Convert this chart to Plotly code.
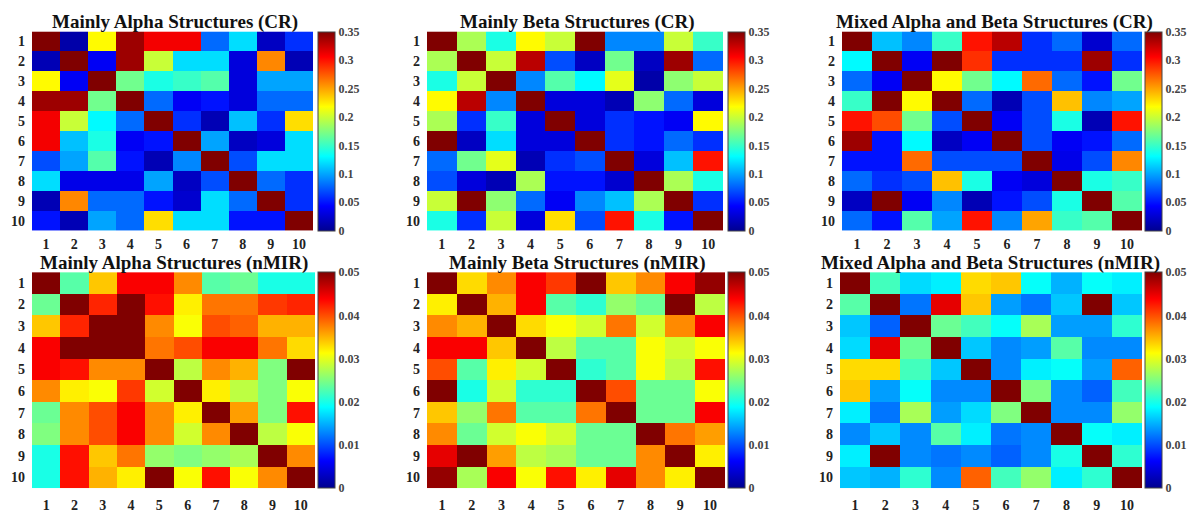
import plotly.graph_objects as go

W, H = 1195, 513

labels = [str(i) for i in range(1, 11)]

titles = [
    "Mainly Alpha Structures (CR)",
    "Mainly Beta Structures (CR)",
    "Mixed Alpha and Beta Structures (CR)",
    "Mainly Alpha Structures (nMIR)",
    "Mainly Beta Structures (nMIR)",
    "Mixed Alpha and Beta Structures (nMIR)",
]

cr_ticks = [0, 0.05, 0.1, 0.15, 0.2, 0.25, 0.3, 0.35]
cr_ticktext = ["0", "0.05", "0.1", "0.15", "0.2", "0.25", "0.3", "0.35"]
nmir_ticks = [0, 0.01, 0.02, 0.03, 0.04, 0.05]
nmir_ticktext = ["0", "0.01", "0.02", "0.03", "0.04", "0.05"]

cr_alpha = [
    [0.35, 0.01, 0.22, 0.34, 0.31, 0.31, 0.08, 0.12, 0.02, 0.06],
    [0.015, 0.35, 0.04, 0.34, 0.20, 0.12, 0.12, 0.03, 0.26, 0.015],
    [0.22, 0.04, 0.35, 0.17, 0.14, 0.15, 0.16, 0.03, 0.10, 0.10],
    [0.34, 0.34, 0.17, 0.35, 0.08, 0.04, 0.05, 0.03, 0.08, 0.08],
    [0.31, 0.20, 0.13, 0.08, 0.35, 0.06, 0.015, 0.11, 0.06, 0.23],
    [0.31, 0.11, 0.14, 0.04, 0.05, 0.35, 0.10, 0.02, 0.03, 0.12],
    [0.07, 0.10, 0.16, 0.05, 0.015, 0.09, 0.35, 0.07, 0.12, 0.12],
    [0.12, 0.035, 0.035, 0.035, 0.10, 0.02, 0.07, 0.35, 0.08, 0.06],
    [0.015, 0.26, 0.08, 0.08, 0.05, 0.025, 0.12, 0.08, 0.35, 0.06],
    [0.05, 0.015, 0.10, 0.08, 0.23, 0.12, 0.12, 0.05, 0.05, 0.35],
]

cr_beta = [
    [0.35, 0.19, 0.14, 0.22, 0.20, 0.35, 0.09, 0.09, 0.20, 0.15],
    [0.19, 0.35, 0.20, 0.33, 0.07, 0.02, 0.17, 0.02, 0.34, 0.08],
    [0.14, 0.20, 0.35, 0.09, 0.16, 0.13, 0.21, 0.01, 0.18, 0.20],
    [0.22, 0.33, 0.09, 0.35, 0.03, 0.03, 0.015, 0.18, 0.08, 0.03],
    [0.19, 0.06, 0.15, 0.03, 0.35, 0.03, 0.06, 0.05, 0.04, 0.22],
    [0.35, 0.02, 0.12, 0.03, 0.03, 0.35, 0.06, 0.05, 0.08, 0.06],
    [0.08, 0.17, 0.21, 0.015, 0.06, 0.07, 0.35, 0.03, 0.11, 0.30],
    [0.07, 0.03, 0.015, 0.19, 0.05, 0.05, 0.025, 0.35, 0.19, 0.14],
    [0.20, 0.35, 0.18, 0.08, 0.04, 0.09, 0.11, 0.19, 0.35, 0.06],
    [0.14, 0.06, 0.20, 0.03, 0.23, 0.07, 0.30, 0.14, 0.05, 0.35],
]

cr_mixed = [
    [0.35, 0.11, 0.09, 0.15, 0.30, 0.33, 0.06, 0.08, 0.025, 0.08],
    [0.13, 0.35, 0.04, 0.35, 0.29, 0.06, 0.06, 0.06, 0.34, 0.06],
    [0.08, 0.04, 0.35, 0.22, 0.17, 0.13, 0.27, 0.08, 0.05, 0.17],
    [0.15, 0.35, 0.22, 0.35, 0.08, 0.015, 0.07, 0.24, 0.09, 0.10],
    [0.30, 0.28, 0.17, 0.07, 0.35, 0.04, 0.07, 0.14, 0.015, 0.30],
    [0.34, 0.05, 0.13, 0.02, 0.04, 0.35, 0.07, 0.04, 0.05, 0.08],
    [0.05, 0.05, 0.27, 0.07, 0.07, 0.07, 0.35, 0.035, 0.07, 0.26],
    [0.08, 0.06, 0.07, 0.24, 0.14, 0.04, 0.03, 0.35, 0.14, 0.15],
    [0.02, 0.35, 0.04, 0.09, 0.015, 0.05, 0.07, 0.14, 0.35, 0.16],
    [0.08, 0.05, 0.16, 0.10, 0.30, 0.09, 0.25, 0.15, 0.16, 0.35],
]

nmir_alpha = [
    [0.050, 0.023, 0.034, 0.044, 0.044, 0.037, 0.023, 0.024, 0.020, 0.020],
    [0.024, 0.050, 0.042, 0.050, 0.043, 0.032, 0.038, 0.038, 0.041, 0.042],
    [0.034, 0.042, 0.050, 0.050, 0.037, 0.031, 0.040, 0.039, 0.035, 0.035],
    [0.044, 0.050, 0.050, 0.050, 0.038, 0.040, 0.044, 0.044, 0.038, 0.033],
    [0.044, 0.043, 0.037, 0.037, 0.050, 0.028, 0.037, 0.035, 0.025, 0.050],
    [0.037, 0.032, 0.031, 0.041, 0.029, 0.050, 0.032, 0.028, 0.025, 0.031],
    [0.024, 0.037, 0.040, 0.044, 0.037, 0.032, 0.050, 0.036, 0.025, 0.043],
    [0.025, 0.037, 0.040, 0.044, 0.037, 0.029, 0.037, 0.050, 0.028, 0.031],
    [0.020, 0.043, 0.034, 0.038, 0.026, 0.025, 0.026, 0.027, 0.050, 0.037],
    [0.020, 0.043, 0.035, 0.032, 0.050, 0.031, 0.043, 0.031, 0.037, 0.050],
]

nmir_beta = [
    [0.050, 0.033, 0.037, 0.044, 0.041, 0.050, 0.034, 0.037, 0.044, 0.049],
    [0.032, 0.050, 0.035, 0.044, 0.023, 0.021, 0.026, 0.024, 0.050, 0.028],
    [0.037, 0.035, 0.050, 0.033, 0.031, 0.029, 0.038, 0.029, 0.037, 0.044],
    [0.044, 0.044, 0.034, 0.050, 0.028, 0.023, 0.023, 0.031, 0.029, 0.031],
    [0.040, 0.023, 0.032, 0.029, 0.050, 0.021, 0.023, 0.031, 0.028, 0.043],
    [0.050, 0.020, 0.029, 0.021, 0.021, 0.050, 0.040, 0.024, 0.024, 0.031],
    [0.034, 0.026, 0.038, 0.023, 0.023, 0.038, 0.050, 0.024, 0.024, 0.044],
    [0.037, 0.024, 0.029, 0.031, 0.029, 0.024, 0.024, 0.050, 0.038, 0.036],
    [0.045, 0.050, 0.036, 0.028, 0.027, 0.024, 0.024, 0.037, 0.050, 0.032],
    [0.049, 0.027, 0.044, 0.031, 0.043, 0.032, 0.045, 0.037, 0.032, 0.050],
]

nmir_mixed = [
    [0.050, 0.022, 0.017, 0.018, 0.033, 0.034, 0.019, 0.015, 0.019, 0.018],
    [0.023, 0.050, 0.012, 0.045, 0.034, 0.014, 0.012, 0.016, 0.050, 0.016],
    [0.016, 0.011, 0.050, 0.024, 0.022, 0.019, 0.027, 0.014, 0.014, 0.021],
    [0.017, 0.045, 0.024, 0.050, 0.016, 0.013, 0.014, 0.023, 0.013, 0.013],
    [0.033, 0.033, 0.022, 0.016, 0.050, 0.013, 0.018, 0.019, 0.014, 0.039],
    [0.034, 0.014, 0.019, 0.013, 0.013, 0.050, 0.025, 0.013, 0.011, 0.022],
    [0.018, 0.012, 0.027, 0.014, 0.017, 0.025, 0.050, 0.013, 0.013, 0.026],
    [0.013, 0.016, 0.013, 0.023, 0.018, 0.012, 0.013, 0.050, 0.019, 0.018],
    [0.018, 0.050, 0.013, 0.012, 0.013, 0.011, 0.013, 0.020, 0.050, 0.021],
    [0.016, 0.015, 0.021, 0.013, 0.039, 0.022, 0.026, 0.018, 0.021, 0.050],
]

# MATLAB-style jet colormap
jet = [
    [0.0, "rgb(0,0,143)"],
    [0.125, "rgb(0,0,255)"],
    [0.375, "rgb(0,255,255)"],
    [0.625, "rgb(255,255,0)"],
    [0.875, "rgb(255,0,0)"],
    [1.0, "rgb(128,0,0)"],
]

FONT = "Liberation Serif"

# layout in pixels: (x0, x1, y0_top, y1_bottom), colorbar left x, title centre (x, y), x-label standoff
panels = [
    (cr_alpha, 0.35, cr_ticks, cr_ticktext, (32, 313, 32, 235), 318, (175, 22), 3),
    (cr_beta, 0.35, cr_ticks, cr_ticktext, (427, 723, 32, 235), 728, (577, 22), 3),
    (cr_mixed, 0.35, cr_ticks, cr_ticktext, (842, 1142, 32, 235), 1145, (994, 22), 3),
    (nmir_alpha, 0.05, nmir_ticks, nmir_ticktext, (32, 315, 277, 497), 318, (174, 268), 7),
    (nmir_beta, 0.05, nmir_ticks, nmir_ticktext, (427, 725, 277, 497), 728, (577, 268), 7),
    (nmir_mixed, 0.05, nmir_ticks, nmir_ticktext, (840, 1142, 277, 497), 1145, (990, 268), 7),
]

fig = go.Figure()
layout = {}
annotations = []

for i, (z, zmax, tv, tt, (px0, px1, py0, py1), cbx, (tx, ty), xso) in enumerate(panels):
    n = "" if i == 0 else str(i + 1)
    xd = [px0 / W, px1 / W]
    yd = [1 - py1 / H, 1 - py0 / H]
    fig.add_trace(go.Heatmap(
        z=z, x=labels, y=labels,
        xaxis="x" + n, yaxis="y" + n,
        colorscale=jet, zmin=0, zmax=zmax,
        colorbar=dict(
            x=cbx / W, xanchor="left", xpad=0,
            y=(yd[0] + yd[1]) / 2, yanchor="middle", ypad=0,
            len=yd[1] - yd[0], lenmode="fraction",
            thickness=17, thicknessmode="pixels",
            outlinewidth=1, outlinecolor="#444",
            tickvals=tv, ticktext=tt, ticks="",
            tickfont=dict(family=FONT, size=12, color="#444", weight="bold"),
        ),
        hoverinfo="z",
    ))
    layout["xaxis" + n] = dict(
        domain=xd, anchor="y" + n, showgrid=False, zeroline=False,
        ticks="", ticklabelstandoff=xso,
        tickfont=dict(family=FONT, size=14, color="#222", weight="bold"),
        showline=False,
    )
    layout["yaxis" + n] = dict(
        domain=yd, anchor="x" + n, showgrid=False, zeroline=False,
        autorange="reversed", ticks="", ticklabelstandoff=6,
        tickfont=dict(family=FONT, size=14, color="#222", weight="bold"),
        showline=False,
    )
    annotations.append(dict(
        text="<b>" + titles[i] + "</b>",
        x=tx / W, y=1 - ty / H, xref="paper", yref="paper",
        xanchor="center", yanchor="middle", showarrow=False,
        font=dict(family=FONT, size=19, color="#111"),
    ))

fig.update_layout(
    width=W, height=H,
    margin=dict(l=0, r=0, t=0, b=0),
    paper_bgcolor="white", plot_bgcolor="white",
    showlegend=False,
    annotations=annotations,
    **layout,
)

fig.write_html("out.html")
